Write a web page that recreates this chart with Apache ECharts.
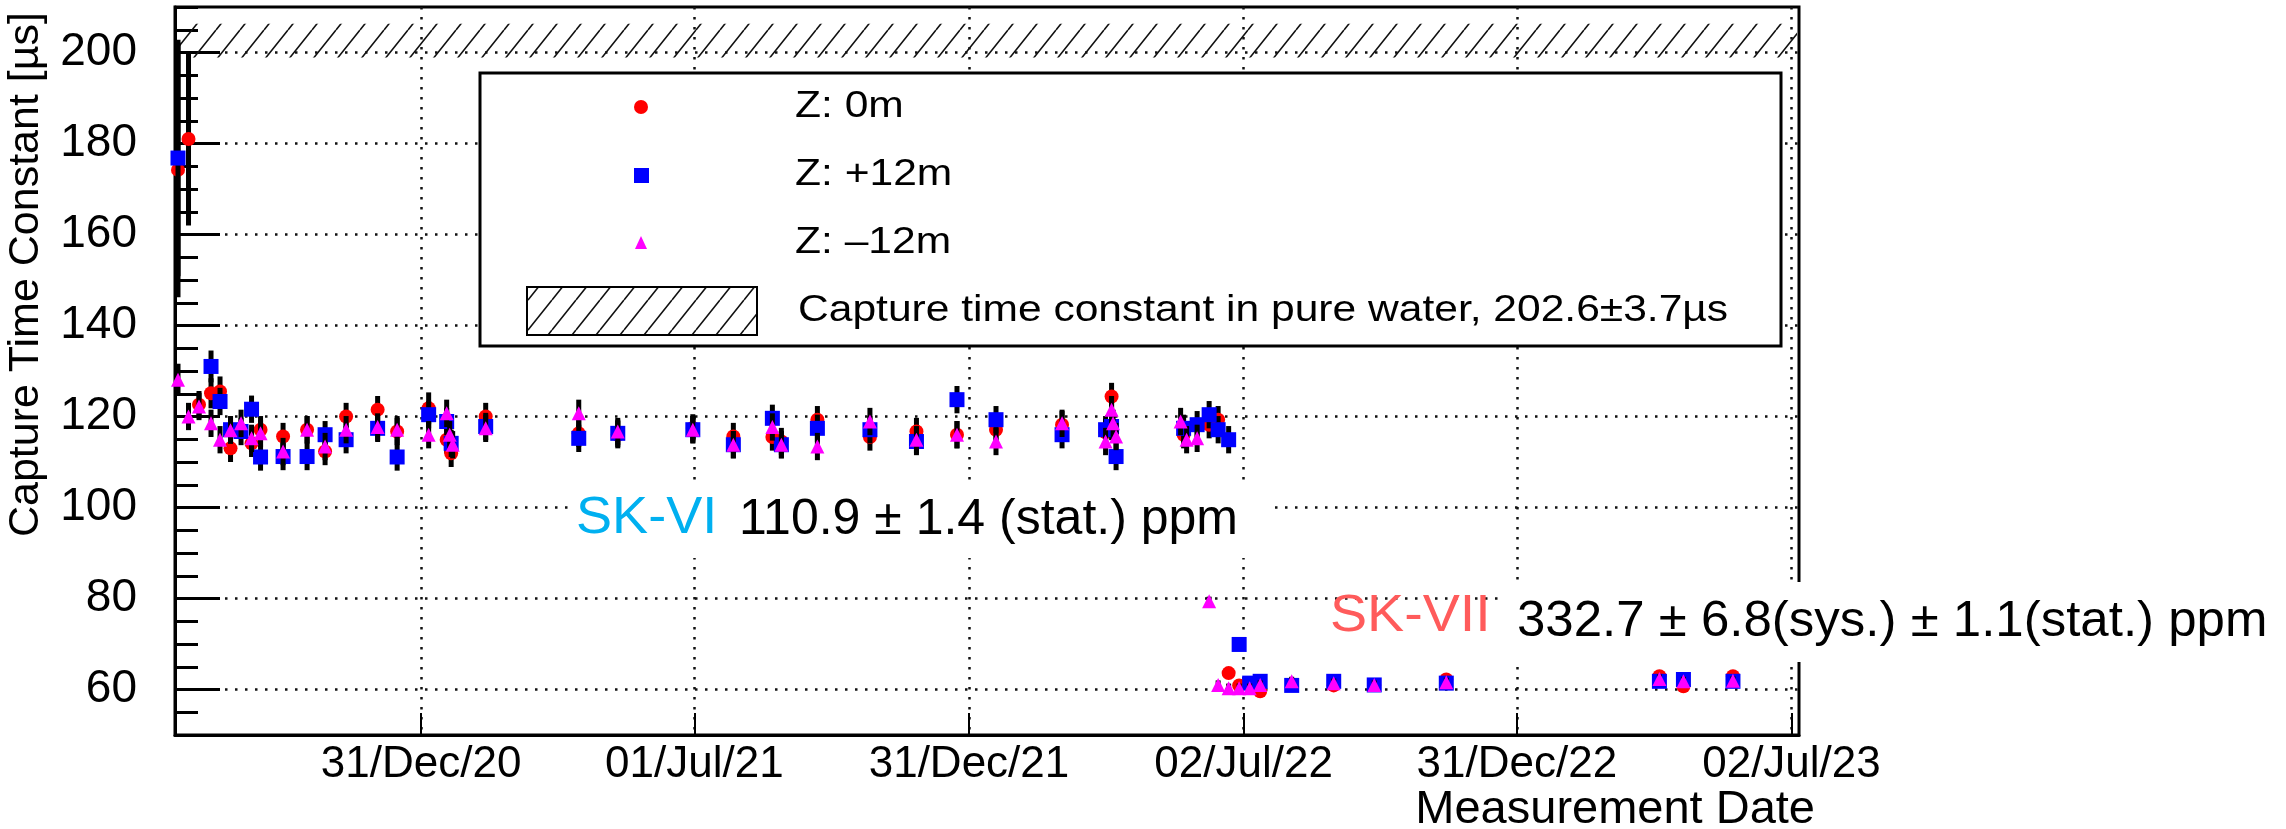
<!DOCTYPE html>
<html><head><meta charset="utf-8">
<script src="https://cdn.jsdelivr.net/npm/echarts@6/dist/echarts.min.js"></script>
<style>html,body{margin:0;padding:0;background:#fff}#c{width:2286px;height:829px}</style>
</head><body><div id="c"></div>
<script>
// ---- data ----
const xTickDates = ['2020-12-31','2021-07-01','2021-12-31','2022-07-02','2022-12-31','2023-07-02'];
const xTickLabels = ['31/Dec/20','01/Jul/21','31/Dec/21','02/Jul/22','31/Dec/22','02/Jul/23'];
const yTicks = [60,80,100,120,140,160,180,200];
const xRange = ['2020-07-20','2023-07-07'];
const yRange = [50,210];
const pureWater = [202.6, 3.7];   // value, uncertainty (µs)

// [date, capture time constant (µs), error]
const z0m = [
 ['2020-07-22',174.2,28],['2020-07-29',181.0,19],['2020-08-05',122.6,3],['2020-08-13',125.1,3.3],
 ['2020-08-19',125.5,3.3],['2020-08-26',113.0,3],['2020-09-09',114.1,3],['2020-09-15',117.1,3],
 ['2020-09-30',115.6,3],['2020-10-16',117.1,3],['2020-10-28',112.3,3],['2020-11-11',120.0,3],
 ['2020-12-02',121.5,3],['2020-12-15',116.7,3],['2021-01-05',121.8,3.5],['2021-01-17',114.9,3],
 ['2021-01-20',111.9,3],['2021-02-12',120.0,3],['2021-04-15',116.3,3],['2021-05-11',116.0,3],
 ['2021-06-30',117.5,3],['2021-07-27',115.6,3],['2021-08-22',115.5,3],['2021-08-28',114.5,3],
 ['2021-09-21',119.3,3],['2021-10-26',115.5,3],['2021-11-26',116.7,3],['2021-12-23',116.0,3],
 ['2022-01-18',117.1,3],['2022-03-03',118.2,3],['2022-04-01',116.5,3],['2022-04-05',124.4,3],
 ['2022-05-23',116.0,3],['2022-06-09',118.2,3],['2022-06-15',119.3,3],
 ['2022-06-22',63.6,1],['2022-06-29',60.9,1],['2022-07-13',59.6,1],['2022-08-31',60.9,1],
 ['2022-09-27',61.0,1],['2022-11-14',62.2,1],['2023-04-05',62.9,1],['2023-04-21',60.7,1],
 ['2023-05-24',62.9,1]
];
const zPlus12m = [
 ['2020-07-22',176.8,26],['2020-08-13',131.0,3.5],['2020-08-19',123.3,3],['2020-08-26',117.1,3],
 ['2020-09-02',116.7,3],['2020-09-09',121.6,3],['2020-09-15',111.1,3],['2020-09-30',111.2,3],
 ['2020-10-16',111.2,3],['2020-10-28',116.0,3],['2020-11-11',114.9,3],['2020-12-02',117.4,3],
 ['2020-12-15',111.1,3],['2021-01-05',120.4,3],['2021-01-17',118.9,3],['2021-01-20',114.1,3],
 ['2021-02-12',117.8,3],['2021-04-15',115.2,3],['2021-05-11',116.3,3],['2021-06-30',117.1,3],
 ['2021-07-27',113.8,3],['2021-08-22',119.6,3],['2021-08-28',113.8,3],['2021-09-21',117.4,3],
 ['2021-10-26',117.1,3],['2021-11-26',114.5,3],['2021-12-23',123.7,3],['2022-01-18',119.3,3],
 ['2022-03-03',116.0,3],['2022-04-01',117.1,3],['2022-04-05',117.8,3],['2022-04-08',111.2,3],
 ['2022-05-23',117.4,3],['2022-06-01',118.2,3],['2022-06-09',120.4,3],['2022-06-15',117.1,3],
 ['2022-06-22',114.9,3],
 ['2022-06-29',69.9,1],['2022-07-06',61.4,1],['2022-07-13',61.8,1],['2022-08-03',60.9,1],
 ['2022-08-31',61.8,1],['2022-09-27',61.0,1],['2022-11-14',61.4,1],['2023-04-05',61.8,1],
 ['2023-04-21',62.2,1],['2023-05-24',61.8,1]
];
const zMinus12m = [
 ['2020-07-22',128.1,3.5],['2020-07-29',120.0,3],['2020-08-05',122.2,3],['2020-08-13',118.5,3],
 ['2020-08-19',114.9,3],['2020-08-26',117.0,3],['2020-09-02',118.5,3],['2020-09-09',115.2,3],
 ['2020-09-15',116.3,3],['2020-09-30',112.3,3],['2020-10-16',117.1,3],['2020-10-28',113.4,3],
 ['2020-11-11',117.1,3],['2020-12-02',117.7,3],['2020-12-15',117.1,3],['2021-01-05',116.0,3],
 ['2021-01-17',120.7,3],['2021-01-19',116.0,3],['2021-01-21',113.8,3],['2021-02-12',117.4,3],
 ['2021-04-15',120.7,3],['2021-05-11',116.7,3],['2021-06-30',117.1,3],['2021-07-27',113.8,3],
 ['2021-08-22',117.7,3],['2021-08-28',113.8,3],['2021-09-21',113.4,3],['2021-10-26',118.9,3],
 ['2021-11-26',114.9,3],['2021-12-23',116.0,3],['2022-01-18',114.5,3],['2022-03-03',118.5,3],
 ['2022-04-01',114.5,3],['2022-04-05',121.5,3],['2022-04-06',118.5,3],['2022-04-08',115.6,3],
 ['2022-05-21',118.9,3],['2022-05-25',114.9,3],['2022-06-01',115.2,3],
 ['2022-06-09',79.4,1],['2022-06-15',61.0,1],['2022-06-22',60.3,1],['2022-06-29',60.3,1],
 ['2022-07-06',60.3,1],['2022-07-13',61.0,1],['2022-08-03',61.8,1],['2022-08-31',61.4,1],
 ['2022-09-27',61.0,1],['2022-11-14',61.6,1],['2023-04-05',62.3,1],['2023-04-21',61.8,1],
 ['2023-05-24',61.9,1]
];
const seriesNames = ['Z: 0m','Z: +12m','Z: \u201312m'];
const bandLabel = 'Capture time constant in pure water, 202.6\u00b13.7\u00b5s';

// ---- chart ----
const FONT = '"Liberation Sans", Arial, Helvetica, sans-serif';
const ts = d => Date.UTC(+d.slice(0,4), +d.slice(5,7)-1, +d.slice(8,10));
function hatchPattern(){
  const W=24,H=30,c=document.createElement('canvas');c.width=W;c.height=H;
  const g=c.getContext('2d');g.strokeStyle='#111';g.lineWidth=1.6;g.beginPath();
  for(let k=-1;k<=1;k++){g.moveTo(k*W,H);g.lineTo(k*W+W,0);}
  g.stroke();return {image:c,repeat:'repeat'};
}
const pat = hatchPattern();
const tickTs = xTickDates.map(ts);
function fmtX(v){let bi=0,bd=Infinity;tickTs.forEach((t,i)=>{const d=Math.abs(t-v);if(d<bd){bd=d;bi=i;}});return bd<3*864e5?xTickLabels[bi]:'';}
const toXY = arr => arr.map(d=>[ts(d[0]),d[1],d[2]]);

function errSeries(data,z){
  return {type:'custom',z:z,silent:true,clip:true,data:toXY(data),encode:{x:0,y:1},
    renderItem:function(p,api){
      const t=api.value(0),v=api.value(1),e=api.value(2);
      const a=api.coord([t,v+e]),b=api.coord([t,v-e]);
      return {type:'line',shape:{x1:a[0],y1:a[1],x2:b[0],y2:b[1]},style:{stroke:'#000',lineWidth:5}};
    }};
}
function ptSeries(name,data,symbol,size,color,z){
  return {type:'scatter',name:name,z:z,symbol:symbol,symbolSize:size,data:toXY(data).map(d=>[d[0],d[1]]),
    itemStyle:{color:color,opacity:1},emphasis:{disabled:true}};
}
function txt(x,y,s,size,color,sx,extra){
  return Object.assign({type:'text',z:61,x:x,y:y,scaleX:sx||1,
    style:{text:s,font:size+'px '+FONT,fill:color,textAlign:'left',textVerticalAlign:'middle'}},extra||{});
}

const chart = echarts.init(document.getElementById('c'),null,{renderer:'canvas'});
const gl=175, gt=7, gr=1799, gb=735;
const xMin=ts(xRange[0]), xMax=ts(xRange[1]);
chart.setOption({
  animation:false,
  backgroundColor:'#fff',
  grid:{left:gl,top:gt,right:2286-gr,bottom:829-gb,show:true,borderColor:'#000',borderWidth:3,containLabel:false},
  xAxis:{type:'value',min:xMin,max:xMax,scale:true,
    axisLine:{lineStyle:{color:'#000',width:3}},
    axisTick:{inside:true,length:22,lineStyle:{color:'#000',width:2},customValues:tickTs},
    axisLabel:{customValues:tickTs,formatter:fmtX,color:'#000',fontFamily:FONT,fontSize:44,margin:8},
    splitLine:{show:true,lineStyle:{color:'#111',width:2.5,type:[2.5,7.5]}}},
  yAxis:[{type:'value',min:yRange[0],max:yRange[1],interval:10,
    axisLine:{lineStyle:{color:'#000',width:3}},
    axisTick:{inside:true,length:45,lineStyle:{color:'#000',width:3},customValues:yTicks},
    axisLabel:{customValues:yTicks,color:'#000',fontFamily:FONT,fontSize:46,margin:38},
    splitLine:{show:true,lineStyle:{color:'#111',width:2.5,type:[2.5,7.5]}}},
   {type:'value',min:yRange[0],max:yRange[1],interval:5,position:'left',
    axisLine:{show:false},axisLabel:{show:false},splitLine:{show:false},
    axisTick:{inside:true,length:23,lineStyle:{color:'#000',width:3}}}],
  series:[
    {type:'custom',z:1,silent:true,data:[[xMin,pureWater[0]]],
      renderItem:function(p,api){
        const a=api.coord([xMin,pureWater[0]+pureWater[1]]);
        const b=api.coord([xMax,pureWater[0]-pureWater[1]]);
        return {type:'rect',shape:{x:a[0]+2,y:a[1],width:b[0]-a[0]-4,height:b[1]-a[1]},style:{fill:pat,stroke:null}};
      }},
    errSeries(z0m,3), ptSeries(seriesNames[0],z0m,'circle',14,'#ff0000',4),
    errSeries(zPlus12m,5), ptSeries(seriesNames[1],zPlus12m,'rect',15,'#0000ff',6),
    errSeries(zMinus12m,7), ptSeries(seriesNames[2],zMinus12m,'triangle',14,'#ff00ff',8)
  ],
  graphic:{elements:[
    {type:'rect',z:50,shape:{x:480,y:73,width:1301,height:273},style:{fill:'#fff',stroke:'#000',lineWidth:3}},
    {type:'circle',z:51,shape:{cx:641,cy:107,r:7},style:{fill:'#ff0000'}},
    {type:'rect',z:51,shape:{x:634,y:168,width:15,height:15},style:{fill:'#0000ff'}},
    {type:'polygon',z:51,shape:{points:[[641,236],[635,249],[647,249]]},style:{fill:'#ff00ff'}},
    {type:'rect',z:51,shape:{x:527,y:287,width:230,height:48},style:{fill:pat,stroke:'#000',lineWidth:2}},
    txt(795,107,seriesNames[0],37,'#000',1.15),
    txt(795,175,seriesNames[1],37,'#000',1.15),
    txt(795,243,seriesNames[2],37,'#000',1.15),
    txt(798,311,bandLabel,37,'#000',1.15),
    {type:'text',z:52,x:26,y:12,rotation:Math.PI/2,style:{text:'Capture Time Constant [\u00b5s]',font:'43px '+FONT,fill:'#000',textAlign:'right',textVerticalAlign:'middle'}},
    {type:'text',z:52,x:1815,y:810,style:{text:'Measurement Date',font:'47px '+FONT,fill:'#000',textAlign:'right',textVerticalAlign:'middle'}},
    {type:'rect',z:60,shape:{x:568,y:482,width:705,height:76},style:{fill:'#fff'}},
    txt(576,519,'SK-VI',52,'#00b0f0',1.04),
    txt(739,520,'110.9 \u00b1 1.4 (stat.) ppm',50,'#000',1),
    txt(1330,617,'SK-VII',52,'#ff5b5b',1.07),
    {type:'rect',z:60,shape:{x:1498,y:582,width:785,height:80},style:{fill:'#fff'}},
    txt(1517,622,'332.7 \u00b1 6.8(sys.) \u00b1 1.1(stat.) ppm',50,'#000',1.02)
  ]}
});
</script></body></html>
